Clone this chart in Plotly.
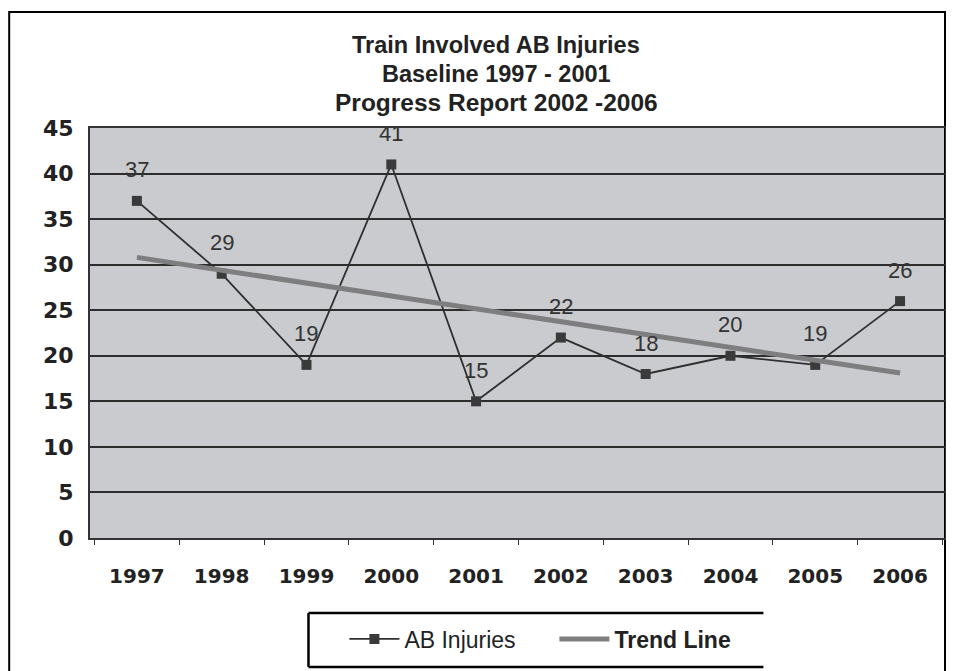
"""Train Involved AB Injuries - line chart with trend line."""

import plotly.graph_objects as go

years = ["1997", "1998", "1999", "2000", "2001", "2002", "2003", "2004", "2005", "2006"]
injuries = [37, 29, 19, 41, 15, 22, 18, 20, 19, 26]

# trend line end points
trend_years = ["1997", "2006"]
trend_values = [30.8, 18.1]

title_lines = [
    "<b>Train Involved AB Injuries</b>",
    "<b>Baseline 1997 - 2001</b>",
    "<b>Progress Report 2002 -2006</b>",
]

# the page body adds an 8px margin, so the figure is drawn 8px smaller
OFF = 8
W, H = 954 - OFF, 671 - OFF
L, R, T, B = 90 - OFF, 7, 128 - OFF, 133
plot_w = W - L - R
plot_h = H - T - B


def px_x(x):
    # screen x (as in the reference) -> paper coordinate
    return (x - OFF - L) / plot_w


def px_y(y):
    # screen y (as in the reference) -> paper coordinate
    return (H - B - (y - OFF)) / plot_h


fig = go.Figure()

fig.add_trace(go.Scatter(
    x=years,
    y=injuries,
    mode="lines+markers",
    name="AB Injuries",
    line=dict(color="#2f2f2f", width=1.8),
    marker=dict(symbol="square", size=10, color="#3a3a3a"),
))

fig.add_trace(go.Scatter(
    x=trend_years,
    y=trend_values,
    mode="lines",
    name="<b>Trend Line</b>",
    line=dict(color="#7e7e7e", width=5),
))

# value labels above the markers
for i, v in enumerate(injuries):
    fig.add_annotation(
        x=i, y=v, text=str(v), showarrow=False, yshift=31,
        font=dict(family="Liberation Sans, Arial", size=22, color="#333333"),
    )

# three-line title
title_sizes = [23.5, 23.5, 24.5]
for i, line in enumerate(title_lines):
    fig.add_annotation(
        xref="paper", yref="paper",
        x=px_x(497), y=px_y(45 + 29 * i), yanchor="middle",
        text=line, showarrow=False,
        font=dict(family="Liberation Sans, Arial", size=title_sizes[i], color="#222222"),
    )

# outer frame
fig.add_shape(type="rect", xref="paper", yref="paper",
              x0=px_x(9), y0=px_y(700), x1=1.0, y1=px_y(12),
              line=dict(color="black", width=2), layer="below")

# legend box (open on the right)
lx0, lx1, ly0, ly1 = px_x(309), px_x(765), px_y(613), px_y(667)
for x0, y0, x1, y1 in [(lx0, ly0, lx1, ly0), (lx0, ly0, lx0, ly1), (lx0, ly1, lx1, ly1)]:
    fig.add_shape(type="line", xref="paper", yref="paper",
                  x0=x0, y0=y0, x1=x1, y1=y1,
                  line=dict(color="black", width=2.5))

fig.update_layout(
    width=W,
    height=H,
    margin=dict(l=L, r=R, t=T, b=B, pad=0),
    paper_bgcolor="white",
    plot_bgcolor="#c9cbce",
    showlegend=True,
    legend=dict(
        orientation="h",
        x=px_x(345), xanchor="left",
        y=px_y(639), yanchor="middle",
        bgcolor="rgba(0,0,0,0)",
        entrywidth=145,
        itemwidth=50,
        font=dict(family="Liberation Sans, Arial", size=23, color="#222222"),
    ),
    xaxis=dict(
        type="category",
        range=[-0.553, 9.53],
        showgrid=False,
        showline=True,
        linecolor="#333333",
        linewidth=2,
        mirror=True,
        ticks="outside",
        tickson="boundaries",
        ticklen=5,
        tickcolor="#333333",
        ticklabelstandoff=19,
        tickfont=dict(family="DejaVu Sans", size=20, color="#222222", weight="bold"),
    ),
    yaxis=dict(
        range=[0, 45],
        dtick=5,
        showgrid=True,
        gridcolor="#2d2d2d",
        gridwidth=2,
        zeroline=False,
        showline=True,
        linecolor="#333333",
        linewidth=2,
        mirror=True,
        ticks="",
        ticklabelstandoff=10,
        tickfont=dict(family="DejaVu Sans", size=22, color="#222222", weight="bold"),
    ),
)

fig.write_html("out.html")
